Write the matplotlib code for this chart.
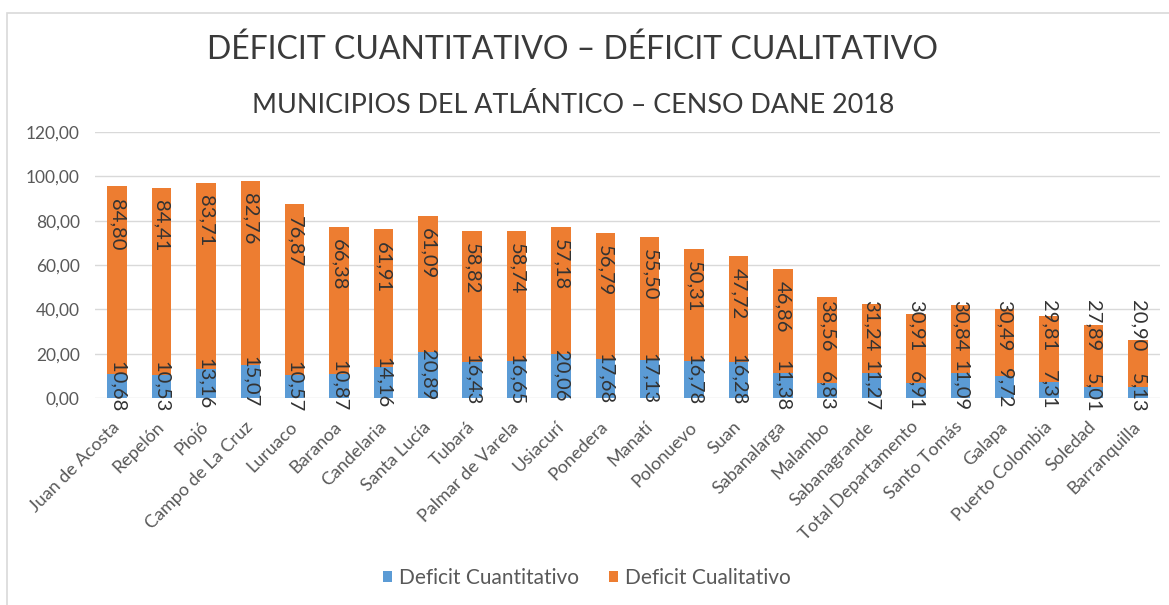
import numpy as np
import matplotlib.pyplot as plt
from matplotlib.patches import Rectangle

municipios = ['Juan de Acosta', 'Repelón', 'Piojó', 'Campo de La Cruz', 'Luruaco',
              'Baranoa', 'Candelaria', 'Santa Lucía', 'Tubará', 'Palmar de Varela',
              'Usiacurí', 'Ponedera', 'Manatí', 'Polonuevo', 'Suan', 'Sabanalarga',
              'Malambo', 'Sabanagrande', 'Total Departamento', 'Santo Tomás', 'Galapa',
              'Puerto Colombia', 'Soledad', 'Barranquilla']
cuantitativo = [10.68, 10.53, 13.16, 15.07, 10.57, 10.87, 14.16, 20.89, 16.43, 16.65,
                20.06, 17.68, 17.13, 16.78, 16.28, 11.38, 6.83, 11.27, 6.91, 11.09,
                9.72, 7.31, 5.01, 5.13]
cualitativo = [84.80, 84.41, 83.71, 82.76, 76.87, 66.38, 61.91, 61.09, 58.82, 58.74,
               57.18, 56.79, 55.50, 50.31, 47.72, 46.86, 38.56, 31.24, 30.91, 30.84,
               30.49, 29.81, 27.89, 20.90]
yticks = [0, 20, 40, 60, 80, 100, 120]

plt.rcParams['font.family'] = ['Lato', 'DejaVu Sans']

AZUL = '#5B9BD5'
NARANJA = '#ED7D31'
TEXTO = '#595959'

def fmt(v):
    return f'{v:.2f}'.replace('.', ',')

fig = plt.figure(figsize=(11.69, 6.05), dpi=100)
ax = fig.add_axes([0.0813, 0.3421, 0.9110, 0.4397])

x = np.arange(len(municipios))
cuant = np.array(cuantitativo)
cual = np.array(cualitativo)

ax.bar(x, cuant, width=0.44, color=AZUL, label='Deficit Cuantitativo', zorder=3)
ax.bar(x, cual, width=0.44, bottom=cuant, color=NARANJA, label='Deficit Cualitativo', zorder=3)

# etiquetas de datos (texto vertical, como en Excel)
for i in range(len(x)):
    ax.text(x[i], cuant[i] / 2, fmt(cuant[i]), rotation=270, ha='center', va='center',
            fontsize=14.5, color='#333333', zorder=4)
    total = cuant[i] + cual[i]
    y_lab = max(total - 5.5, 44)
    ax.text(x[i], y_lab, fmt(cual[i]), rotation=270, ha='center', va='top',
            fontsize=14.5, color='#333333', zorder=4)

ax.set_xlim(-0.5, len(x) - 0.5)
ax.set_ylim(0, 120)
ax.set_yticks(yticks)
ax.set_yticklabels([fmt(v) for v in yticks], fontsize=12.5, color=TEXTO)
ax.set_xticks(x)
ax.set_xticklabels(municipios, rotation=45, ha='right', va='center', rotation_mode='anchor',
                   fontsize=13, color=TEXTO)
ax.tick_params(axis='y', length=0, pad=11)
ax.tick_params(axis='x', length=0, pad=19)
ax.grid(axis='y', color='#d9d9d9', linewidth=1, zorder=0)
for s in ax.spines.values():
    s.set_visible(False)

fig.text(0.49, 0.918, 'DÉFICIT CUANTITATIVO – DÉFICIT CUALITATIVO', ha='center', va='center',
         fontsize=23, color='#3a3a3a')
fig.text(0.49, 0.825, 'MUNICIPIOS DEL ATLÁNTICO – CENSO DANE 2018', ha='center', va='center',
         fontsize=19.4, color='#3a3a3a')

fig.legend(loc='center', bbox_to_anchor=(0.502, 0.045), ncol=2, frameon=False,
           fontsize=15, labelcolor=TEXTO, handlelength=0.45, handleheight=0.45,
           handletextpad=0.35, columnspacing=1.4)

# borde del gráfico
fig.patches.append(Rectangle((7 / 1169, -0.1), 1.2, 1.1 - 13 / 605, transform=fig.transFigure,
                             fill=False, edgecolor='#d9d9d9', linewidth=1.2))

fig.savefig('out.png', dpi=100)
